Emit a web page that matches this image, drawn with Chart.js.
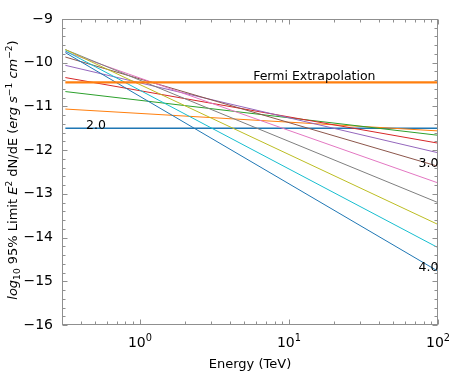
<!DOCTYPE html>
<html>
<head>
<meta charset="utf-8">
<script src="https://cdn.jsdelivr.net/npm/chart.js@4"></script>
<style>
  body { margin: 0; background: #fff; }
  canvas { display: block; }
</style>
</head>
<body>
<canvas id="limit-chart" width="463" height="371"></canvas>
<script>
/**
 *  Data
 */
var energyRange = [0.316, 100];          // TeV, ends of every line
var spectralIndex = [2.0, 2.2, 2.4, 2.6, 2.8, 3.0, 3.2, 3.4, 3.6, 3.8, 4.0];
var limitAtLow  = [-11.50, -11.06, -10.66, -10.34, -10.06, -9.87, -9.75, -9.70, -9.70, -9.73, -9.77];
var limitAtHigh = [-11.50, -11.56, -11.66, -11.84, -12.06, -12.37, -12.75, -13.20, -13.70, -14.23, -14.77];
var fermiLevel = -10.45;
var yTickValues = [-16, -15, -14, -13, -12, -11, -10, -9];
var xTickDecades = [1, 10, 100];
var xTickExponents = ['0', '1', '2'];

var palette = ['#1f77b4', '#ff7f0e', '#2ca02c', '#d62728', '#9467bd',
               '#8c564b', '#e377c2', '#7f7f7f', '#bcbd22', '#17becf'];
var frameColor = '#8f8f8f';
var fontFamily = '"DejaVu Sans", sans-serif';

/**
 *  Build datasets
 */
var datasets = spectralIndex.map(function (g, i) {
    return {
        label: 'Index ' + g.toFixed(1),
        data: [
            { x: energyRange[0], y: limitAtLow[i] },
            { x: energyRange[1], y: limitAtHigh[i] }
        ],
        borderColor: palette[i % 10],
        borderWidth: i === 0 ? 1.5 : 1,
        pointRadius: 0,
        fill: false,
        order: 40 - i
    };
});
datasets.push({
    label: 'Fermi Extrapolation',
    data: [
        { x: energyRange[0], y: fermiLevel },
        { x: energyRange[1], y: fermiLevel }
    ],
    borderColor: palette[1],
    borderWidth: 2.2,
    pointRadius: 0,
    fill: false,
    order: 0
});

/**
 *  Draw mixed text (italic, sub/superscripts) starting at x
 */
function richWidth(ctx, parts, size) {
    var w = 0;
    parts.forEach(function (p) {
        var s = p.s ? size * 0.7 : size;
        ctx.font = (p.it ? 'italic ' : '') + s + 'px ' + fontFamily;
        w += ctx.measureText(p.t).width;
    });
    return w;
}
function drawRich(ctx, parts, x, y, size) {
    parts.forEach(function (p) {
        var s = p.s ? size * 0.7 : size;
        ctx.font = (p.it ? 'italic ' : '') + s + 'px ' + fontFamily;
        var dy = p.s === 'sup' ? -size * 0.42 : (p.s === 'sub' ? size * 0.25 : 0);
        ctx.fillText(p.t, x, y + dy);
        x += ctx.measureText(p.t).width;
    });
}

var yTitleParts = [
    { t: 'log', it: true }, { t: '10', s: 'sub' }, { t: ' 95% Limit ' },
    { t: 'E', it: true }, { t: '2', s: 'sup' }, { t: ' dN/dE (' },
    { t: 'erg s', it: true }, { t: '\u22121', s: 'sup' },
    { t: ' cm', it: true }, { t: '\u22122', s: 'sup' }, { t: ')' }
];

/**
 *  Frame, inward ticks, x labels, titles and annotations
 */
var decorPlugin = {
    id: 'decor',
    afterDraw: function (chart) {
        var ctx = chart.ctx;
        var a = chart.chartArea;
        var xs = chart.scales.x, ys = chart.scales.y;
        var L = Math.round(a.left) + 0.5, R = Math.round(a.right) - 0.5;
        var T = Math.round(a.top) + 0.5, B = Math.round(a.bottom) - 0.5;
        ctx.save();
        ctx.strokeStyle = frameColor;
        ctx.lineWidth = 1;
        ctx.strokeRect(L, T, R - L, B - T);

        ctx.beginPath();
        // x ticks, major and minor, top and bottom
        for (var d = -1; d <= 2; d++) {
            for (var m = 1; m <= 9; m++) {
                var v = m * Math.pow(10, d);
                if (v < xs.min || v > xs.max) continue;
                var px = Math.round(xs.getPixelForValue(v)) + 0.5;
                var len = m === 1 ? 5 : 3;
                ctx.moveTo(px, B); ctx.lineTo(px, B - len);
                ctx.moveTo(px, T); ctx.lineTo(px, T + len);
            }
        }
        // y ticks every 0.2, major every 1
        for (var k = -80; k <= -45; k++) {
            var yv = k / 5;
            var py = Math.round(ys.getPixelForValue(yv)) + 0.5;
            var ylen = k % 5 === 0 ? 5 : 3;
            ctx.moveTo(L, py); ctx.lineTo(L + ylen, py);
            ctx.moveTo(R, py); ctx.lineTo(R - ylen, py);
        }
        ctx.stroke();

        // x tick labels 10^n
        ctx.fillStyle = '#000';
        ctx.textBaseline = 'alphabetic';
        ctx.textAlign = 'left';
        xTickDecades.forEach(function (v, i) {
            var parts = [{ t: '10' }, { t: xTickExponents[i], s: 'sup' }];
            var w = richWidth(ctx, parts, 14);
            drawRich(ctx, parts, xs.getPixelForValue(v) - w / 2, 347, 14);
        });

        // x title
        ctx.font = '13px ' + fontFamily;
        ctx.textAlign = 'center';
        ctx.fillText('Energy (TeV)', (a.left + a.right) / 2, 368);

        // y title, rotated
        ctx.save();
        ctx.translate(17, (a.top + a.bottom) / 2 - 2);
        ctx.rotate(-Math.PI / 2);
        ctx.textAlign = 'left';
        var tw = richWidth(ctx, yTitleParts, 13);
        drawRich(ctx, yTitleParts, -tw / 2, 0, 13);
        ctx.restore();

        // annotations
        ctx.font = '12.5px ' + fontFamily;
        ctx.textAlign = 'left';
        ctx.fillText('Fermi Extrapolation', xs.getPixelForValue(5.75), ys.getPixelForValue(fermiLevel) - 2.5);
        ctx.fillText('2.0', xs.getPixelForValue(0.435), ys.getPixelForValue(limitAtLow[0]) + 0.5);
        ctx.fillText('3.0', xs.getPixelForValue(74), ys.getPixelForValue(limitAtHigh[5]) + 0.5);
        ctx.fillText('4.0', xs.getPixelForValue(74), ys.getPixelForValue(limitAtHigh[10]) - 0.5);
        ctx.restore();
    }
};

var ctx = document.getElementById('limit-chart').getContext('2d');
var myLimitChart = new Chart(ctx, {
    type: 'line',
    data: { datasets: datasets },
    plugins: [decorPlugin],
    options: {
        responsive: false,
        animation: false,
        layout: { padding: { top: 19, right: 25, bottom: 46, left: 0 } },
        plugins: { legend: { display: false }, tooltip: { enabled: false } },
        scales: {
            x: {
                type: 'logarithmic',
                min: energyRange[0],
                max: energyRange[1],
                display: false
            },
            y: {
                type: 'linear',
                min: yTickValues[0],
                max: yTickValues[yTickValues.length - 1],
                grid: { display: false, drawTicks: false },
                border: { display: false },
                afterBuildTicks: function (scale) {
                    scale.ticks = yTickValues.map(function (v) { return { value: v }; });
                },
                afterFit: function (scale) {
                    scale.width = 62;
                },
                ticks: {
                    padding: 9,
                    color: '#000',
                    font: { family: fontFamily, size: 14 },
                    callback: function (value) {
                        return '\u2212' + Math.abs(value);
                    }
                }
            }
        }
    }
});
</script>
</body>
</html>
